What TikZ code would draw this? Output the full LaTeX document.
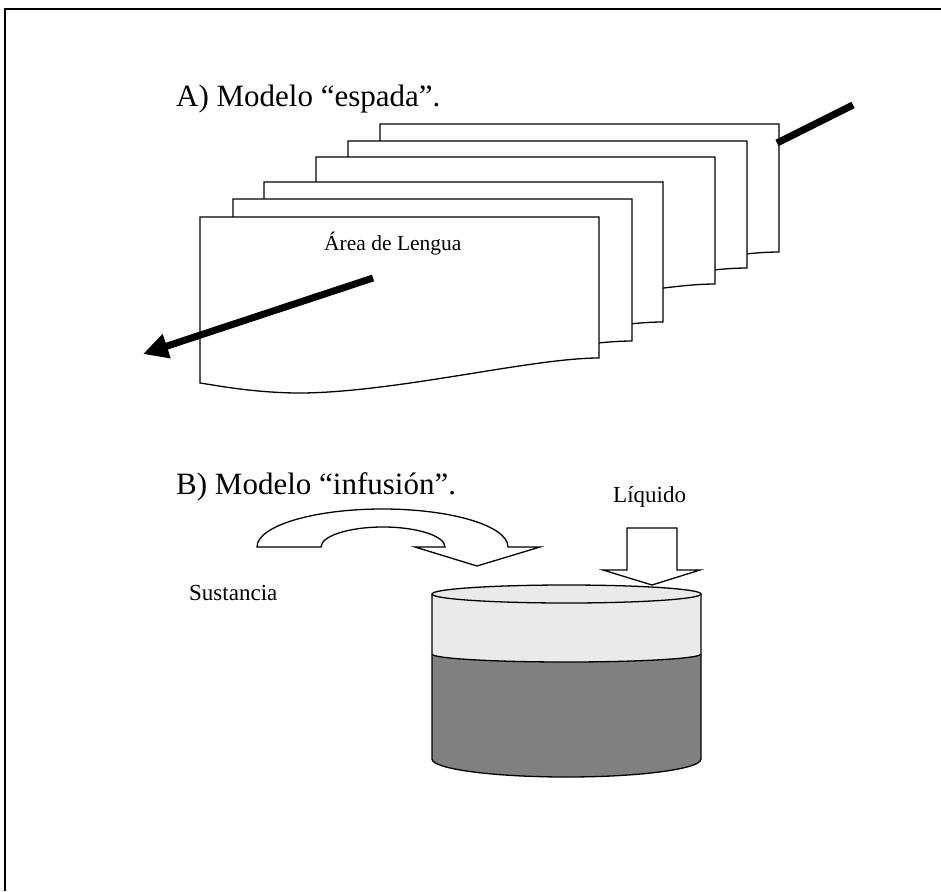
\documentclass[tikz,border=0pt]{standalone}
\usepackage{fontspec}
\setmainfont{Liberation Serif}
\usetikzlibrary{arrows.meta}

\definecolor{toplayer}{HTML}{EAEAEA}
\definecolor{bottomlayer}{HTML}{808080}

\begin{document}
\begin{tikzpicture}[x=1pt, y=-1pt,
    sheet/.style={draw, fill=white, line width=1.3},
    hollow/.style={draw, fill=white, line width=1.3, line join=miter},
    bigtext/.style={anchor=base west, inner sep=0, font=\fontsize{31}{37}\selectfont},
    smalltext/.style={anchor=base west, inner sep=0, font=\fontsize{23}{28}\selectfont}]

  \useasboundingbox (0,0) rectangle (941,891);

  % Frame round the figure
  \draw[line width=2] (5,891) -- (5,9) -- (941,9);

  % A) the stack of sheets, back to front
  \node[bigtext] (titlea) at (176,106) {A) Modelo “espada”.};
  \foreach \px/\py/\ph in {380/124/128, 348/141/127, 316/157/127, 264/182/140, 233/199/142, 200/217/141} {
      \pgfmathsetmacro\pr{\px+399}
      \pgfmathsetmacro\pb{\py+\ph}
      \draw[sheet] (\px,\py) -- (\pr,\py) -- (\pr,\pb)
          .. controls ({\pr-69},\pb) and ({\px+190},{\pb+36}) .. ({\px+94},{\pb+35})
          .. controls ({\px+50},{\pb+34}) and ({\px+20},{\pb+28}) .. (\px,{\pb+25}) -- cycle;
  }
  \node[smalltext, font=\fontsize{21.5}{26}\selectfont] (lengua) at (324,250) {Área de Lengua};

  % the sword through the sheets
  \coordinate (swordback) at (777,143);
  \coordinate (swordend) at (853,105);
  \coordinate (swordfront) at (373,278);
  \coordinate (swordtip) at (143,354);
  \draw[line width=7] (swordback) -- (swordend);
  \draw[line width=7, -{Triangle[length=25pt, width=24pt]}] (swordfront) -- (swordtip);

  % B) substance and liquid poured into the jar
  \node[bigtext] (titleb) at (176,494) {B) Modelo “infusión”.};
  \node[smalltext] (sustancia) at (189,600) {Sustancia};
  \node[smalltext] (liquido) at (613,502) {Líquido};

  % curved arrow for the substance
  \draw[hollow] (257,547) -- (321,547)
      .. controls (321,536) and (348.8,527) .. (383,527)
      .. controls (417.2,527) and (445,536) .. (445,547)
      -- (415,547) -- (477,566) -- (540,547) -- (508,547)
      .. controls (508,526) and (451.8,509) .. (382.5,509)
      .. controls (313.2,509) and (257,526) .. (257,547) -- cycle;

  % straight arrow for the liquid
  \draw[hollow] (627,528) -- (677,528) -- (677,570) -- (700,570) -- (652,585)
      -- (603,570) -- (627,570) -- cycle;

  % the jar
  \fill[toplayer] (432,594) -- (432,654)
      .. controls (432,658.4) and (492.3,662) .. (566.5,662)
      .. controls (640.7,662) and (701,658.4) .. (701,654) -- (701,594) -- cycle;
  \fill[bottomlayer] (432,654)
      .. controls (432,658.4) and (492.3,662) .. (566.5,662)
      .. controls (640.7,662) and (701,658.4) .. (701,654)
      -- (701,759)
      .. controls (701,768.9) and (640.7,777) .. (566.5,777)
      .. controls (492.3,777) and (432,768.9) .. (432,759) -- cycle;
  \draw[line width=1.3] (432,654)
      .. controls (432,658.4) and (492.3,662) .. (566.5,662)
      .. controls (640.7,662) and (701,658.4) .. (701,654);
  \draw[line width=1.3] (432,594) -- (432,759)
      .. controls (432,768.9) and (492.3,777) .. (566.5,777)
      .. controls (640.7,777) and (701,768.9) .. (701,759) -- (701,594);
  \draw[line width=1.3, fill=toplayer] (566.5,594) ellipse [x radius=134.5, y radius=9];

\end{tikzpicture}
\end{document}
